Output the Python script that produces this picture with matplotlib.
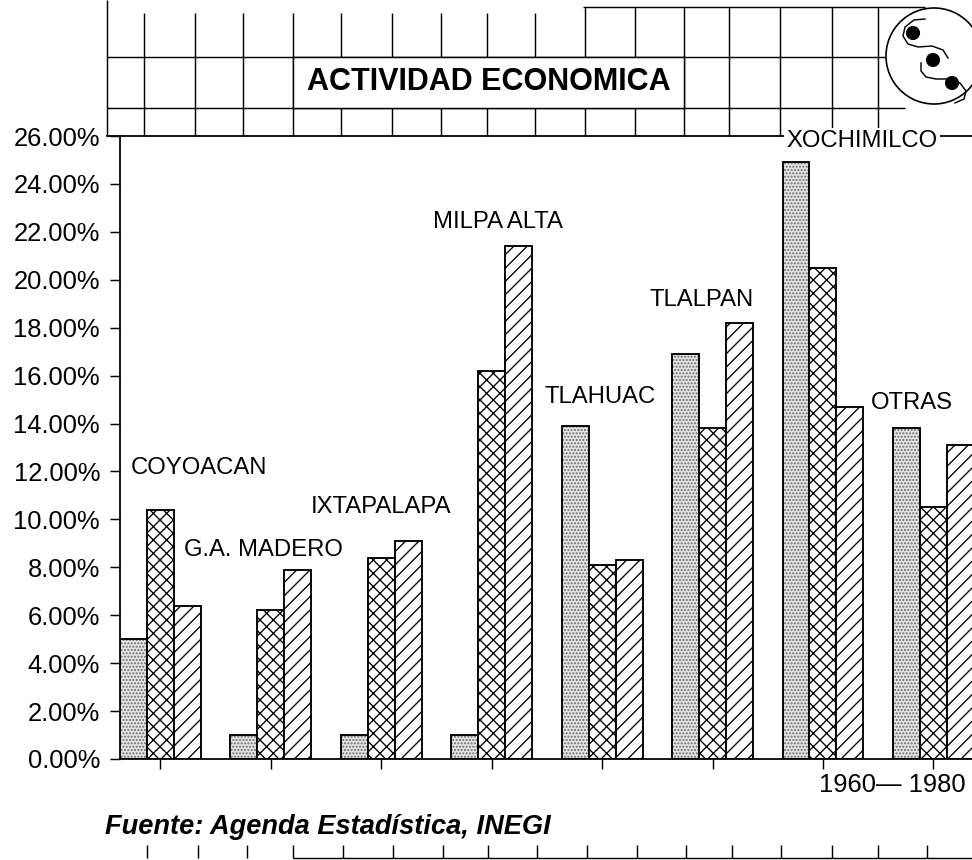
import matplotlib
matplotlib.use("Agg")
import matplotlib.pyplot as plt
import numpy as np
from matplotlib import font_manager
from matplotlib.patches import Rectangle, Circle

plt.rcParams['font.family'] = ['Liberation Sans', 'DejaVu Sans']
plt.rcParams['hatch.linewidth'] = 1.2

# data (percent)
municipios = ['COYOACAN', 'G.A. MADERO', 'IXTAPALAPA', 'MILPA ALTA',
              'TLAHUAC', 'TLALPAN', 'XOCHIMILCO', 'OTRAS']
serie_punteada = [5.0, 1.0, 1.0, 1.0, 13.9, 16.9, 24.9, 13.8]
serie_cruzada = [10.4, 6.2, 8.4, 16.2, 8.1, 13.8, 20.5, 10.5]
serie_diagonal = [6.4, 7.9, 9.1, 21.4, 8.3, 18.2, 14.7, 13.1]
yticks = np.arange(0, 27, 2)

# where each municipio name sits (data coords, left edge)
label_pos = [(-0.27, 12.15), (0.21, 8.72), (1.36, 10.52), (2.47, 22.41),
             (3.48, 15.11), (4.43, 19.16), (5.67, 25.8), (6.43, 14.86)]

W, H, DPI = 972, 860, 80
fig = plt.figure(figsize=(W / DPI, H / DPI), dpi=DPI)

# decoration layer in pixel coords
deco = fig.add_axes([0, 0, 1, 1], zorder=0)
deco.set_xlim(0, W)
deco.set_ylim(H, 0)
deco.axis('off')
lc = dict(color='black', lw=1.3, solid_capstyle='butt')

# header grid
deco.plot([107, 107], [0, 136], **lc)
for x in [144, 195, 243, 293, 341, 392, 441, 487, 535]:
    deco.plot([x, x], [13, 136], **lc)
for x in [585, 635, 684, 729, 780, 832, 878]:
    deco.plot([x, x], [7, 136], **lc)
deco.plot([583, 925], [7, 7], **lc)
deco.plot([107, 895], [57, 57], **lc)
deco.plot([107, 905], [108, 108], **lc)
deco.plot([107, 972], [136, 136], color='black', lw=1.6)
deco.add_patch(Rectangle((293, 57), 391, 51, facecolor='white',
                         edgecolor='black', lw=1.3, zorder=3))
deco.text(489, 82, 'ACTIVIDAD ECONOMICA', ha='center', va='center',
          fontsize=27.5, fontweight='bold', zorder=4)

# logo
deco.add_patch(Circle((934, 56), 48, facecolor='white', edgecolor='black',
                      lw=1.5, zorder=5))
for cx, cy in [(913, 33), (933, 60), (952, 83)]:
    deco.add_patch(Circle((cx, cy), 6.5, color='black', zorder=6))
s1x = [925, 914, 905, 903, 908, 918, 932, 943, 948]
s1y = [19, 20, 27, 36, 44, 47, 46, 50, 58]
s2x = [921, 921, 926, 936, 948, 960, 966, 964, 955]
s2y = [63, 71, 77, 79, 79, 83, 91, 99, 103]
deco.plot(s1x, s1y, color='black', lw=1.3, zorder=6)
deco.plot(s2x, s2y, color='black', lw=1.3, zorder=6)

# bottom ruler
deco.plot([293, 972], [858, 858], **lc)
for x in [147, 198, 247, 293, 343, 393, 443, 488, 537, 587, 637, 686,
          732, 781, 832, 878, 927]:
    deco.plot([x, x], [845, 858], **lc)

names = {f.name for f in font_manager.fontManager.ttflist}
if 'Liberation Sans Narrow' in names:
    deco.text(105, 827, 'Fuente: Agenda Estadística, INEGI', ha='left',
              va='center', family='Liberation Sans Narrow', fontsize=29.5,
              fontweight='bold', style='italic')
else:
    deco.text(105, 827, 'Fuente: Agenda Estadística, INEGI', ha='left',
              va='center', fontsize=24.5, fontweight='bold', style='italic')
deco.text(892, 785, '1960— 1980', ha='center', va='center', fontsize=23)

# main chart
ax = fig.add_axes([120 / W, 1 - 759 / H, (W - 120) / W, (759 - 136) / H],
                  zorder=1)
ax.patch.set_alpha(0)
x = np.arange(len(municipios))
w = 0.244

ax.bar(x - w, serie_punteada, w, color='#e4e4e4', hatch='....',
       edgecolor='#6a6a6a', lw=0)
ax.bar(x - w, serie_punteada, w, fill=False, edgecolor='black', lw=1.7)
ax.bar(x, serie_cruzada, w, color='white', hatch='xx', edgecolor='black', lw=1.7)
ax.bar(x + w, serie_diagonal, w, color='white', hatch='//', edgecolor='black',
       lw=1.7)

for name, (lx, ly) in zip(municipios, label_pos):
    txt = ax.text(lx, ly, name, ha='left', va='center', fontsize=21.5,
                  clip_on=False)
    if name == 'XOCHIMILCO':
        txt.set_bbox(dict(facecolor='white', edgecolor='none', pad=2))

ax.set_xlim(-1.5 * w, 7.35)
ax.set_ylim(0, 26)
ax.set_yticks(yticks)
ax.set_yticklabels(['%.2f%%' % v for v in yticks], fontsize=23)
ax.set_xticks(x)
ax.set_xticklabels([])
ax.tick_params(axis='both', direction='out', length=9, width=1.3)
ax.tick_params(axis='y', pad=9)
for side in ['top', 'right']:
    ax.spines[side].set_visible(False)
ax.spines['left'].set_linewidth(1.6)
ax.spines['bottom'].set_linewidth(1.6)

fig.savefig('out.png', dpi=DPI)
